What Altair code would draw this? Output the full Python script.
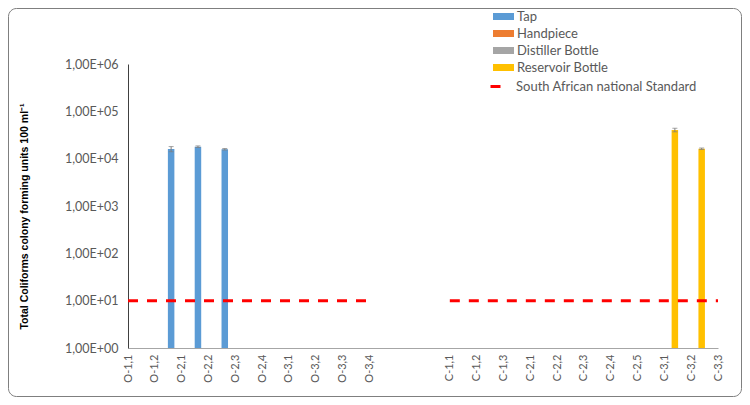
import altair as alt
import pandas as pd

# ---- data ----
categories = ["O-1,1", "O-1,2", "O-2,1", "O-2,2", "O-2,3", "O-2,4", "O-3,1", "O-3,2",
              "O-3,3", "O-3,4", "gap1", "gap2", "C-1,1", "C-1,2", "C-1,3", "C-2,1",
              "C-2,2", "C-2,3", "C-2,4", "C-2,5", "C-3,1", "C-3,2", "C-3,3"]
series_names = ["Tap", "Handpiece", "Distiller Bottle", "Reservoir Bottle"]
series_colors = ["#5B9BD5", "#ED7D31", "#A5A5A5", "#FFC000"]

tap_cats = ["O-2,1", "O-2,2", "O-2,3"]
tap_vals = [16000, 17900, 15800]
tap_err = [2000, 700, 600]

res_cats = ["C-3,1", "C-3,2"]
res_vals = [40400, 16200]
res_err = [3500, 600]

standard_label = "South African national Standard"
standard_value = 10
o_cats = categories[:10]
c_cats = categories[12:]

y_ticks = [1, 10, 100, 1000, 10000, 100000, 1000000]

# ---- tables ----
rows = []
for c, v, e in zip(tap_cats, tap_vals, tap_err):
    rows.append({"cat": c, "series": "Tap", "value": v, "lo": v - e, "hi": v + e})
for c, v, e in zip(res_cats, res_vals, res_err):
    rows.append({"cat": c, "series": "Reservoir Bottle", "value": v, "lo": v - e, "hi": v + e})
bars_df = pd.DataFrame(rows)

std_rows = [{"cat": c, "grp": "O", "value": standard_value, "label": standard_label} for c in o_cats]
std_rows += [{"cat": c, "grp": "C", "value": standard_value, "label": standard_label} for c in c_cats]
std_df = pd.DataFrame(std_rows)

FONT = "Lato"
GRAY = "#595959"

x_enc = alt.X(
    "cat:N",
    scale=alt.Scale(type="point", domain=categories, padding=0),
    axis=alt.Axis(
        title=None, labelAngle=270, ticks=False, labelPadding=6,
        labelExpr="indexof(datum.label, 'gap') == 0 ? '' : datum.label",
        domainColor="#A6A6A6", labelColor=GRAY, labelFont=FONT, labelFontSize=11,
    ),
)
y_scale = alt.Scale(type="log", domain=[1, 1000000])
y_axis = alt.Axis(
    values=y_ticks, grid=False, ticks=False, labelPadding=10,
    labelExpr="'1,00E+0' + round(log(datum.value) / LN10)",
    labelColor=GRAY, labelFont=FONT, labelFontSize=12.5, domainColor="#404040",
    title="Total Coliforms colony forming units 100 ml\u207B\u00B9",
    titleFont="Liberation Sans", titleFontSize=10.5, titleFontWeight="bold", titleColor="#000000",
    titleAngle=270, titleAlign="center", titleBaseline="middle", titleX=-104, titleY=152,
)
x_off = alt.XOffset(
    "series:N",
    scale=alt.Scale(type="point", domain=series_names, range=[-10.5, 10.5], padding=0),
)

border = alt.Chart(pd.DataFrame({"a": [0]})).mark_rect(
    fill=None, stroke="#7F7F7F", strokeWidth=1, cornerRadius=8
).encode(
    x=alt.value(-119.5), x2=alt.value(613.5), y=alt.value(-55.5), y2=alt.value(332.5)
)

bars = alt.Chart(bars_df).mark_bar(size=6.5).encode(
    x=x_enc,
    xOffset=x_off,
    y=alt.Y("value:Q", scale=y_scale, axis=y_axis),
    y2=alt.datum(1),
    color=alt.Color(
        "series:N",
        scale=alt.Scale(domain=series_names, range=series_colors),
        legend=alt.Legend(
            title=None, orient="none", legendX=365, legendY=-56,
            symbolType="M-1,-0.33H1V0.33H-1Z", symbolSize=441, symbolStrokeWidth=0,
            labelFont=FONT, labelFontSize=13, labelColor=GRAY, labelOffset=3,
            labelLimit=300, rowPadding=0, clipHeight=17,
        ),
    ),
)

err = alt.Chart(bars_df).mark_rule(color="#7F7F7F", strokeWidth=1).encode(
    x=x_enc, xOffset=x_off, y=alt.Y("lo:Q", scale=y_scale), y2="hi:Q"
)
cap_lo = alt.Chart(bars_df).mark_tick(color="#7F7F7F", size=5, thickness=1).encode(
    x=x_enc, xOffset=x_off, y=alt.Y("lo:Q", scale=y_scale)
)
cap_hi = alt.Chart(bars_df).mark_tick(color="#7F7F7F", size=5, thickness=1).encode(
    x=x_enc, xOffset=x_off, y=alt.Y("hi:Q", scale=y_scale)
)

line = alt.Chart(std_df).mark_line(strokeWidth=3, strokeDash=[10, 9]).encode(
    x=x_enc,
    y=alt.Y("value:Q", scale=y_scale),
    detail="grp:N",
    stroke=alt.Stroke(
        "label:N",
        scale=alt.Scale(domain=[standard_label], range=["#FF0000"]),
        legend=alt.Legend(
            title=None, orient="none", legendX=361, legendY=16,
            symbolType="stroke", symbolSize=100, symbolStrokeWidth=3,
            labelFont=FONT, labelFontSize=13, labelColor=GRAY, labelOffset=14,
            labelLimit=300,
        ),
    ),
)

chart = alt.layer(border, bars, err, cap_lo, cap_hi, line).properties(
    width=590, height=284,
    autosize=alt.AutoSizeParams(type="none"),
    padding={"left": 120, "top": 56, "right": 24, "bottom": 49},
    background="white",
).configure_view(stroke=None)

chart.save("out.html", embed_options={"renderer": "svg", "actions": False})
